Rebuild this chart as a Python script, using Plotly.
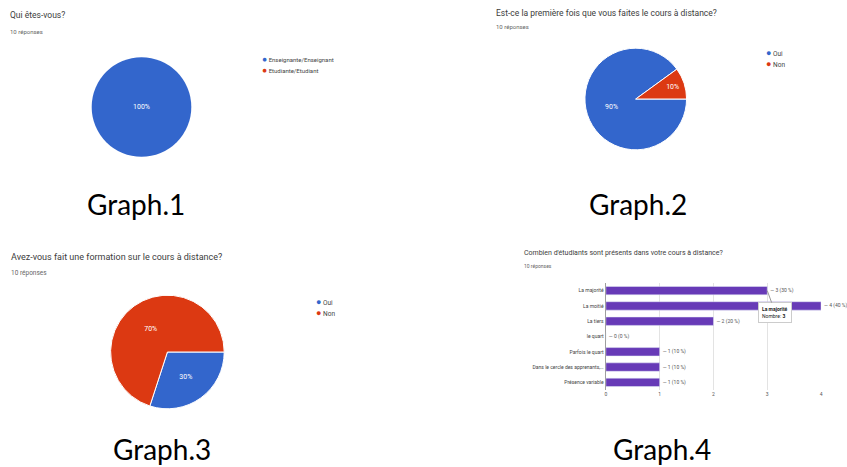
import plotly.graph_objects as go

W, H = 847, 467

# ---------- data ----------
q1_title = "Qui êtes-vous?"
q1_labels = ["Enseignante/Enseignant", "Etudiante/Etudiant"]
q1_values = [10, 0]

q2_title = "Est-ce la première fois que vous faites le cours à distance?"
q2_labels = ["Oui", "Non"]
q2_values = [9, 1]

q3_title = "Avez-vous fait une formation sur le cours à distance?"
q3_labels = ["Oui", "Non"]
q3_values = [3, 7]

q4_title = "Combien d'étudiants sont présents dans votre cours à distance?"
q4_categories = ["La majorité", "La moitié", "La tiers", "le quart", "Parfois le quart",
                 "Dans le cercle des apprenants,…", "Présence variable"]
q4_values = [3, 4, 2, 0, 1, 1, 1]
q4_pct = [30, 40, 20, 0, 10, 10, 10]
q4_ticks = [0, 1, 2, 3, 4]

responses = "10 réponses"
graph_labels = ["Graph.1", "Graph.2", "Graph.3", "Graph.4"]

BLUE, RED, PURPLE = "#3366CC", "#DC3912", "#673AB7"
FONT = "Roboto, Arial, sans-serif"


def px(x0, x1):
    return [x0 / W, x1 / W]


def py(top, bottom):
    return [(H - bottom) / H, (H - top) / H]


fig = go.Figure()

pie_common = dict(sort=False, direction="clockwise", showlegend=False,
                  textinfo="percent", texttemplate="%{percent:.0%}",
                  textfont=dict(family=FONT, size=7, color="white"),
                  insidetextorientation="horizontal", textposition="inside",
                  hoverinfo="label+value")

fig.add_trace(go.Pie(labels=q1_labels, values=q1_values, rotation=90,
                     marker=dict(colors=[BLUE, RED], line=dict(color="white", width=0)),
                     domain=dict(x=px(91, 191), y=py(57, 157)), **pie_common))
fig.add_trace(go.Pie(labels=q2_labels, values=q2_values, rotation=90,
                     marker=dict(colors=[BLUE, RED], line=dict(color="white", width=1)),
                     domain=dict(x=px(586, 688), y=py(48, 150)), **pie_common))
fig.add_trace(go.Pie(labels=q3_labels, values=q3_values, rotation=90,
                     marker=dict(colors=[BLUE, RED], line=dict(color="white", width=1)),
                     domain=dict(x=px(110, 224), y=py(295, 409)), **pie_common))

bar_text = [f"— {v} ({p} %)" for v, p in zip(q4_values, q4_pct)]
fig.add_trace(go.Bar(x=q4_values, y=q4_categories, orientation="h",
                     marker=dict(color=PURPLE), text=bar_text,
                     textposition="outside", cliponaxis=False,
                     textfont=dict(family=FONT, size=5, color="#555"),
                     showlegend=False, xaxis="x", yaxis="y"))

fig.update_layout(
    width=W, height=H, margin=dict(l=0, r=0, t=0, b=0),
    paper_bgcolor="white", plot_bgcolor="white",
    bargap=0.45,
    xaxis=dict(domain=px(607, 823), range=[0, 4], tickvals=q4_ticks,
               showgrid=True, gridcolor="#e3e3e3", gridwidth=1,
               zeroline=True, zerolinecolor="#9e9e9e", zerolinewidth=1,
               tickfont=dict(family=FONT, size=5, color="#555"),
               ticks="", fixedrange=True, anchor="y"),
    yaxis=dict(domain=py(283, 390), range=[6.5, -0.5], autorange=False,
               tickfont=dict(family=FONT, size=5, color="#444"),
               showgrid=False, ticks="", ticksuffix=" ", anchor="x",
               automargin=False),
)

ann = []


def text(x, y, s, size, color="#333", family=FONT, xanchor="left", **kw):
    ann.append(dict(x=x / W, y=(H - y) / H, xref="paper", yref="paper", text=s,
                    showarrow=False, xanchor=xanchor, yanchor="middle",
                    font=dict(family=family, size=size, color=color), **kw))


# titles
text(7, 15, q1_title, 8.5, "#3c3c3c")
text(7, 32, responses, 6, "#666")
text(495, 13, q2_title, 8.5, "#3c3c3c")
text(495, 27, responses, 6, "#666")
text(8, 257, q3_title, 9, "#3c3c3c")
text(8, 273, responses, 6.5, "#666")
text(523, 253, q4_title, 7, "#3c3c3c")
text(523, 266, responses, 5, "#666")

# legends
def legend(x, y, labels, size, dy):
    for i, lab in enumerate(labels):
        col = [BLUE, RED][i]
        text(x - 4, y + i * dy,
             f"<span style='color:{col};font-size:{size + 2.5}px'>●</span> {lab}",
             size, "#444")


legend(264, 59, q1_labels, 6, 11)
legend(770, 53, q2_labels, 6.5, 11)
legend(318, 302, q3_labels, 6.5, 11)

# graph captions
GFONT = "Lato, 'Open Sans', sans-serif"
text(135, 204, graph_labels[0], 28, "black", GFONT, xanchor="center")
text(639, 204, graph_labels[1], 28, "black", GFONT, xanchor="center")
text(162, 449, graph_labels[2], 28, "black", GFONT, xanchor="center")
text(663, 449, graph_labels[3], 28, "black", GFONT, xanchor="center")

# tooltip
ann.append(dict(x=3, y=0, xref="x", yref="y",
                text=f"<b>{q4_categories[0]}</b><br>Nombre: <b>{q4_values[0]}</b>",
                showarrow=True, arrowhead=0, arrowcolor="#999", arrowwidth=1,
                ax=8, ay=22, align="left", bgcolor="white", bordercolor="#ccc",
                borderwidth=1, borderpad=3,
                font=dict(family=FONT, size=5, color="#222")))

fig.update_layout(annotations=ann)

fig.write_html("out.html")
